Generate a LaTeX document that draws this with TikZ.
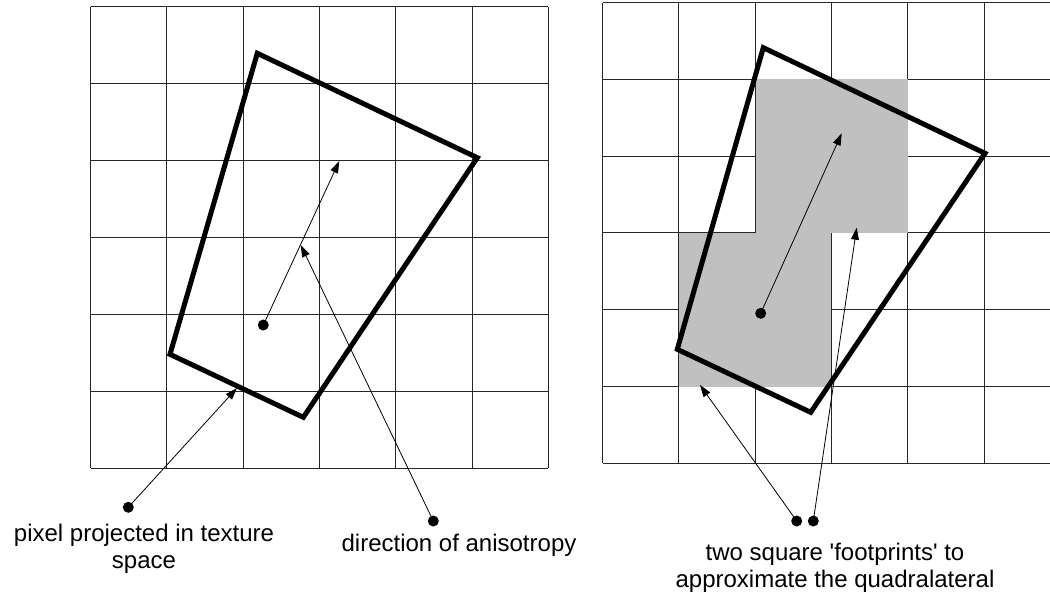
\documentclass[tikz,border=0pt]{standalone}
\usepackage{fontspec}
\setmainfont{Liberation Sans}[Ligatures=TeXOff]
\usetikzlibrary{arrows.meta}
\definecolor{footgray}{RGB}{192,192,192}
\begin{document}
\begin{tikzpicture}[x=1pt,y=-1pt,
  gridline/.style={line width=1pt, black!85},
  quad/.style={line width=5pt, line join=miter},
  ptr/.style={line width=0.8pt, -{Triangle[length=12pt,width=8pt]}},
  dot/.style={circle, fill=black, inner sep=0pt, minimum size=11pt},
  lab/.style={font=\fontsize{24}{27}\selectfont, align=center, inner sep=0pt, anchor=north}]
\useasboundingbox (0,0) rectangle (1050,598);
% left grid
\foreach \i in {0,...,6} {
  \draw[gridline] ({90.7+76.27*\i},6.7) -- ({90.7+76.27*\i},468.3);
  \draw[gridline] (90.7,{6.7+76.93*\i}) -- (548.3,{6.7+76.93*\i});
}
% right grid
\foreach \i in {0,...,5} {
  \draw[gridline] ({602.7+76.27*\i},2.5) -- ({602.7+76.27*\i},463.3);
}
\foreach \i in {0,...,6} {
  \draw[gridline] (602.7,{2.5+76.8*\i}) -- (1050,{2.5+76.8*\i});
}
% footprints
\fill[footgray] (755.7,79.3) rectangle (908.2,232.9);
\fill[footgray] (679,232.9) rectangle (831.3,386.5);
% quadrilaterals
\draw[quad] (257.3,53.3) -- (477.3,157.7) -- (303.3,417.3) -- (170,354.3) -- cycle;
\draw[quad] (763.3,47.7) -- (985,153.3) -- (810.7,412.3) -- (677.3,349.3) -- cycle;
% direction arrows
\node[dot] (c1) at (263.3,325) {};
\coordinate (t1) at (339.3,161);
\draw[ptr] (c1.center) -- (t1);
\node[dot] (c2) at (760.7,313.3) {};
\coordinate (t2) at (841.7,133.3);
\draw[ptr] (c2.center) -- (t2);
% pointers
\node[dot] (p1) at (128.3,507.3) {};
\coordinate (p1t) at (237,388);
\draw[ptr] (p1.center) -- (p1t);
\node[dot] (p2) at (433.3,521) {};
\coordinate (p2t) at (300.7,245);
\draw[ptr] (p2.center) -- (p2t);
\node[dot] (f1) at (796.7,521) {};
\coordinate (f1t) at (700,385);
\draw[ptr] (f1.center) -- (f1t);
\node[dot] (f2) at (813.3,521) {};
\coordinate (f2t) at (856.7,227.7);
\draw[ptr] (f2.center) -- (f2t);
% labels
\node[lab] (l1) at (144,524) {pixel projected in texture\\space};
\node[lab] (l2) at (459,534) {direction of anisotropy};
\node[lab] (l3) at (835,543) {two square 'footprints' to\\approximate the quadralateral};
\end{tikzpicture}
\end{document}
